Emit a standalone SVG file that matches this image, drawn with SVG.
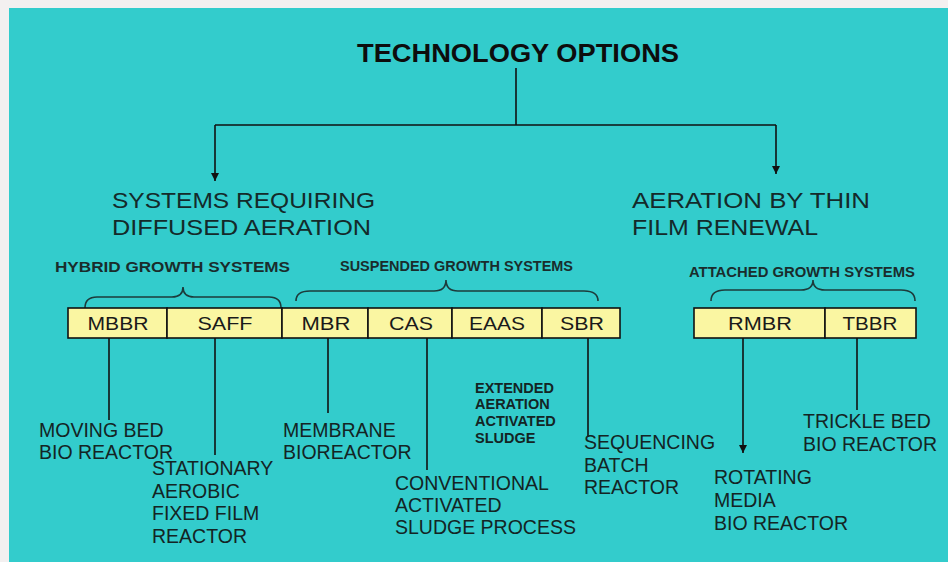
<svg xmlns="http://www.w3.org/2000/svg" width="948" height="562" viewBox="0 0 948 562">
  <style>
    .bg { fill: #33CCCC; }
    .title { font-family: "Liberation Sans", Arial, sans-serif; font-weight: bold; font-size: 26px; fill: #0d0d0d; }
    .head { font-family: "Liberation Sans", Arial, sans-serif; font-size: 22px; fill: #142a2a; }
    .grp { font-family: "Liberation Sans", Arial, sans-serif; font-weight: bold; font-size: 14px; fill: #1a2c2c; }
    .small { font-family: "Liberation Sans", Arial, sans-serif; font-weight: bold; font-size: 14.5px; fill: #142424; }
    .lbl { font-family: "Liberation Sans", Arial, sans-serif; font-size: 19.5px; fill: #142424; }
    .box rect { fill: #FAF6A2; stroke: #111; stroke-width: 1.6; }
    .box text { font-family: "Liberation Sans", Arial, sans-serif; font-size: 19px; fill: #1a1a1a; text-anchor: middle; }
    .brace { fill: none; stroke: #1d3b3b; stroke-width: 1.6; }
    .conn { fill: none; stroke: #111; stroke-width: 1.6; }
  </style>
  <defs>
    <marker id="arrow" markerUnits="userSpaceOnUse" markerWidth="9" markerHeight="8" refX="8" refY="4" orient="auto">
      <path d="M0,0 L8,4 L0,8 z" fill="#111"/>
    </marker>
  </defs>

  <!-- page and panel -->
  <rect x="0" y="0" width="948" height="562" fill="#F3F0F0"/>
  <rect class="bg" x="9" y="8" width="939" height="554"/>

  <!-- connectors -->
  <g id="connectors">
    <path class="conn" d="M516,68 V125"/>
    <path class="conn" d="M215,125 H776"/>
    <path class="conn" d="M215,125 V181" marker-end="url(#arrow)"/>
    <path class="conn" d="M776,125 V174" marker-end="url(#arrow)"/>
    <path class="conn" d="M109,338 V420"/>
    <path class="conn" d="M215,338 V455"/>
    <path class="conn" d="M328,338 V413"/>
    <path class="conn" d="M427,338 V470"/>
    <path class="conn" d="M588,338 V437"/>
    <path class="conn" d="M743,338 V453" marker-end="url(#arrow)"/>
    <path class="conn" d="M857,338 V410"/>
  </g>

  <!-- top level -->
  <g id="technology-options">
    <text class="title" x="357" y="62" textLength="322" lengthAdjust="spacingAndGlyphs">TECHNOLOGY OPTIONS</text>
  </g>

  <g id="diffused-aeration">
    <text class="head" x="112" y="208" textLength="263" lengthAdjust="spacingAndGlyphs">SYSTEMS REQUIRING</text>
    <text class="head" x="112" y="235" textLength="259" lengthAdjust="spacingAndGlyphs">DIFFUSED AERATION</text>
  </g>

  <g id="thin-film-renewal">
    <text class="head" x="632" y="208" textLength="238" lengthAdjust="spacingAndGlyphs">AERATION BY THIN</text>
    <text class="head" x="632" y="235" textLength="186" lengthAdjust="spacingAndGlyphs">FILM RENEWAL</text>
  </g>

  <!-- system families with braces -->
  <g id="hybrid-growth">
    <text class="grp" x="55" y="272" textLength="235" lengthAdjust="spacingAndGlyphs">HYBRID GROWTH SYSTEMS</text>
    <path class="brace" d="M85,308 Q85,297 97,297 H172 Q183,297 183,287 Q183,297 194,297 H269 Q281,297 281,308"/>
  </g>

  <g id="suspended-growth">
    <text class="grp" x="340" y="271" textLength="233" lengthAdjust="spacingAndGlyphs">SUSPENDED GROWTH SYSTEMS</text>
    <path class="brace" d="M296,301 Q296,291 310,291 H434 Q446,291 446,280 Q446,291 458,291 H584 Q598,291 598,301"/>
  </g>

  <g id="attached-growth">
    <text class="grp" x="689" y="277" textLength="226" lengthAdjust="spacingAndGlyphs">ATTACHED GROWTH SYSTEMS</text>
    <path class="brace" d="M711,301 Q711,290 725,290 H801 Q813,290 813,280 Q813,290 825,290 H901 Q915,290 915,301"/>
  </g>

  <!-- technology boxes -->
  <g id="mbbr" class="box"><rect x="68" y="308" width="99" height="30"/><text x="118" y="330" textLength="61" lengthAdjust="spacingAndGlyphs">MBBR</text></g>
  <g id="saff" class="box"><rect x="167" y="308" width="115" height="30"/><text x="225" y="330" textLength="55" lengthAdjust="spacingAndGlyphs">SAFF</text></g>
  <g id="mbr" class="box"><rect x="282" y="308" width="86" height="30"/><text x="326" y="330" textLength="49" lengthAdjust="spacingAndGlyphs">MBR</text></g>
  <g id="cas" class="box"><rect x="368" y="308" width="84" height="30"/><text x="411" y="330" textLength="44" lengthAdjust="spacingAndGlyphs">CAS</text></g>
  <g id="eaas" class="box"><rect x="452" y="308" width="90" height="30"/><text x="497" y="330" textLength="56" lengthAdjust="spacingAndGlyphs">EAAS</text></g>
  <g id="sbr" class="box"><rect x="542" y="308" width="78" height="30"/><text x="582" y="330" textLength="44" lengthAdjust="spacingAndGlyphs">SBR</text></g>
  <g id="rmbr" class="box"><rect x="694" y="308" width="131" height="30"/><text x="760" y="330" textLength="64" lengthAdjust="spacingAndGlyphs">RMBR</text></g>
  <g id="tbbr" class="box"><rect x="825" y="308" width="91" height="30"/><text x="870" y="330" textLength="55" lengthAdjust="spacingAndGlyphs">TBBR</text></g>

  <!-- descriptions -->
  <g id="desc-mbbr">
    <text class="lbl" x="39" y="437">MOVING BED</text>
    <text class="lbl" x="39" y="459">BIO REACTOR</text>
  </g>
  <g id="desc-saff">
    <text class="lbl" x="152" y="475">STATIONARY</text>
    <text class="lbl" x="152" y="498">AEROBIC</text>
    <text class="lbl" x="152" y="520">FIXED FILM</text>
    <text class="lbl" x="152" y="543">REACTOR</text>
  </g>
  <g id="desc-mbr">
    <text class="lbl" x="283" y="437">MEMBRANE</text>
    <text class="lbl" x="283" y="459">BIOREACTOR</text>
  </g>
  <g id="desc-cas">
    <text class="lbl" x="395" y="490">CONVENTIONAL</text>
    <text class="lbl" x="395" y="512">ACTIVATED</text>
    <text class="lbl" x="395" y="534">SLUDGE PROCESS</text>
  </g>
  <g id="desc-eaas">
    <text class="small" x="475" y="393">EXTENDED</text>
    <text class="small" x="475" y="409">AERATION</text>
    <text class="small" x="475" y="426">ACTIVATED</text>
    <text class="small" x="475" y="443">SLUDGE</text>
  </g>
  <g id="desc-sbr">
    <text class="lbl" x="584" y="449">SEQUENCING</text>
    <text class="lbl" x="584" y="472">BATCH</text>
    <text class="lbl" x="584" y="494">REACTOR</text>
  </g>
  <g id="desc-rmbr">
    <text class="lbl" x="714" y="484">ROTATING</text>
    <text class="lbl" x="714" y="507">MEDIA</text>
    <text class="lbl" x="714" y="530">BIO REACTOR</text>
  </g>
  <g id="desc-tbbr">
    <text class="lbl" x="803" y="428">TRICKLE BED</text>
    <text class="lbl" x="803" y="451">BIO REACTOR</text>
  </g>
</svg>
